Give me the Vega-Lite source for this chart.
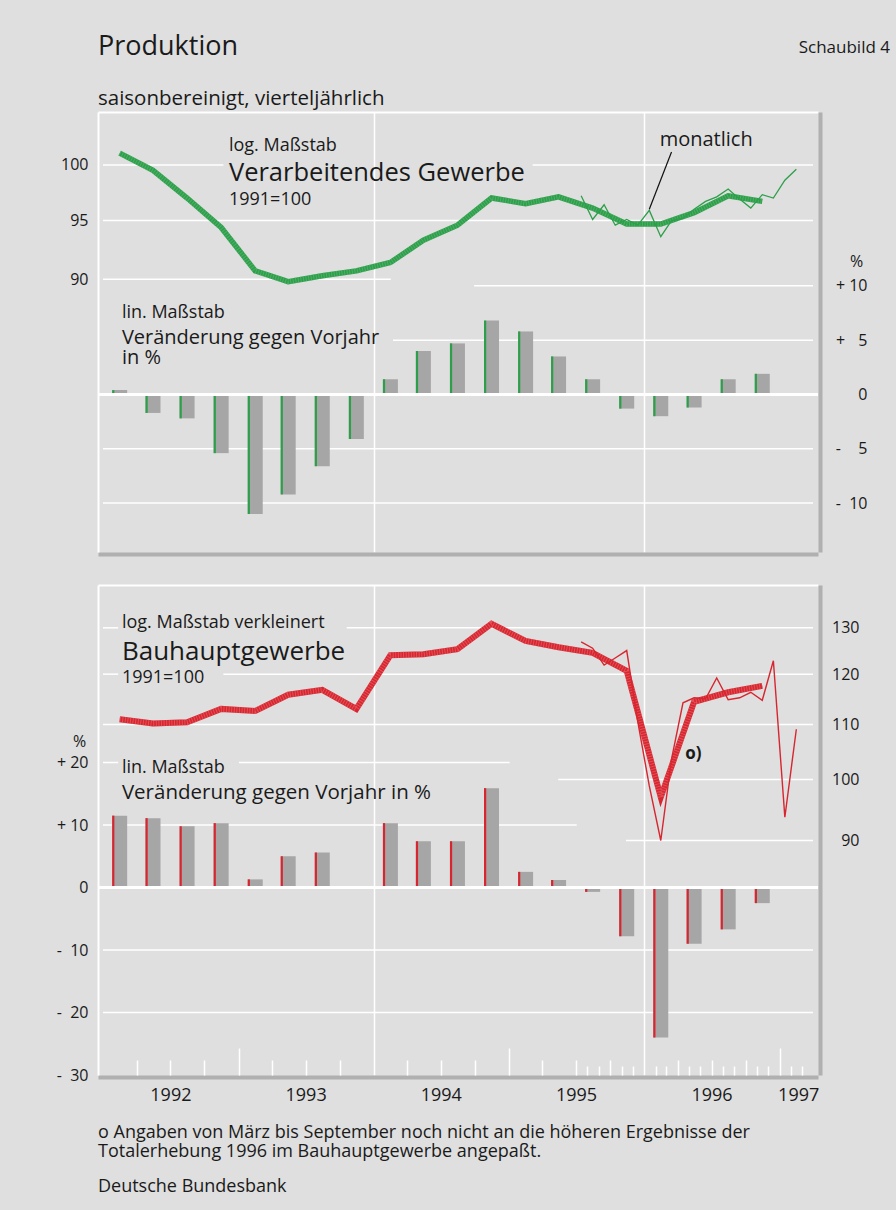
{
"$schema": "https://vega.github.io/schema/vega-lite/v6.json",
"background": "#dfdfdf",
"padding": {"left": 56, "top": 32, "right": 6, "bottom": 16},
"config": {
  "font": "Open Sans",
  "view": {"stroke": null},
  "axis": {"labelFont": "Open Sans", "labelFontSize": 16, "labelColor": "#1a1a1a", "titleFont": "Open Sans", "titleFontWeight": "normal", "titleColor": "#1a1a1a", "titleFontSize": 16, "ticks": false, "domain": false, "grid": false, "labelOverlap": false, "labelFlush": false, "labelBound": false},
  "title": {"font": "Open Sans", "color": "#1a1a1a", "fontWeight": "normal", "subtitleFont": "Open Sans", "subtitleColor": "#1a1a1a"},
  "text": {"font": "Open Sans", "color": "#1a1a1a", "align": "left", "baseline": "alphabetic"}
},
"title": {"text": "Schaubild 4", "anchor": "end", "frame": "bounds", "fontSize": 17, "dy": 24.5, "dx": 23, "offset": 0},
"spacing": 33,
"bounds": "flush",
"datasets": {
  "q": [
    {"date": "1992-02-15", "ind": 101.1, "bau": 111.0, "ind_pct": 0.4, "bau_pct": 11.5},
    {"date": "1992-05-15", "ind": 99.5, "bau": 110.2, "ind_pct": -1.7, "bau_pct": 11.1},
    {"date": "1992-08-15", "ind": 97.0, "bau": 110.4, "ind_pct": -2.2, "bau_pct": 9.8},
    {"date": "1992-11-15", "ind": 94.4, "bau": 113.0, "ind_pct": -5.4, "bau_pct": 10.3},
    {"date": "1993-02-15", "ind": 90.7, "bau": 112.6, "ind_pct": -11.0, "bau_pct": 1.3},
    {"date": "1993-05-15", "ind": 89.8, "bau": 115.8, "ind_pct": -9.2, "bau_pct": 5.0},
    {"date": "1993-08-15", "ind": 90.3, "bau": 116.8, "ind_pct": -6.6, "bau_pct": 5.6},
    {"date": "1993-11-15", "ind": 90.7, "bau": 113.0, "ind_pct": -4.1, "bau_pct": 0},
    {"date": "1994-02-15", "ind": 91.4, "bau": 124.0, "ind_pct": 1.4, "bau_pct": 10.3},
    {"date": "1994-05-15", "ind": 93.3, "bau": 124.2, "ind_pct": 4.0, "bau_pct": 7.4},
    {"date": "1994-08-15", "ind": 94.6, "bau": 125.3, "ind_pct": 4.7, "bau_pct": 7.4},
    {"date": "1994-11-15", "ind": 97.0, "bau": 130.9, "ind_pct": 6.8, "bau_pct": 15.9},
    {"date": "1995-02-15", "ind": 96.5, "bau": 127.1, "ind_pct": 5.8, "bau_pct": 2.5},
    {"date": "1995-05-15", "ind": 97.1, "bau": 125.7, "ind_pct": 3.5, "bau_pct": 1.2},
    {"date": "1995-08-15", "ind": 96.1, "bau": 124.5, "ind_pct": 1.4, "bau_pct": -0.7},
    {"date": "1995-11-15", "ind": 94.7, "bau": 120.7, "ind_pct": -1.3, "bau_pct": -7.8},
    {"date": "1996-02-15", "ind": 94.7, "bau": 97.0, "ind_pct": -2.0, "bau_pct": -24.0},
    {"date": "1996-05-15", "ind": 95.7, "bau": 114.4, "ind_pct": -1.2, "bau_pct": -9.0},
    {"date": "1996-08-15", "ind": 97.2, "bau": 116.3, "ind_pct": 1.4, "bau_pct": -6.7},
    {"date": "1996-11-15", "ind": 96.7, "bau": 117.6, "ind_pct": 1.9, "bau_pct": -2.5}
  ],
  "m": [
    {"date": "1995-07-15", "ind": 97.2, "bau": 126.9},
    {"date": "1995-08-15", "ind": 95.1, "bau": 125.5},
    {"date": "1995-09-15", "ind": 96.4, "bau": 121.9},
    {"date": "1995-10-15", "ind": 94.6, "bau": 123.4},
    {"date": "1995-11-15", "ind": 95.1, "bau": 125.0},
    {"date": "1995-12-15", "ind": 94.6, "bau": 110.5},
    {"date": "1996-01-15", "ind": 95.9, "bau": 98.9},
    {"date": "1996-02-15", "ind": 93.6, "bau": 90.0},
    {"date": "1996-03-15", "ind": 95.0, "bau": 103.6},
    {"date": "1996-04-15", "ind": 95.2, "bau": 114.2},
    {"date": "1996-05-15", "ind": 96.0, "bau": 115.2},
    {"date": "1996-06-15", "ind": 96.7, "bau": 115.0},
    {"date": "1996-07-15", "ind": 97.1, "bau": 119.2},
    {"date": "1996-08-15", "ind": 97.8, "bau": 114.8},
    {"date": "1996-09-15", "ind": 96.9, "bau": 115.2},
    {"date": "1996-10-15", "ind": 96.1, "bau": 116.3},
    {"date": "1996-11-15", "ind": 97.3, "bau": 114.7},
    {"date": "1996-12-15", "ind": 97.0, "bau": 122.8},
    {"date": "1997-01-15", "ind": 98.6, "bau": 93.7},
    {"date": "1997-02-15", "ind": 99.6, "bau": 109.1}
  ],
  "gti": [
    {"v": 100, "from": "1992-01-01", "to": "1992-11-21"},
    {"v": 100, "from": "1995-03-06", "to": "1997-04-01"},
    {"v": 95, "from": "1992-01-01", "to": "1997-04-01"},
    {"v": 90, "from": "1992-01-01", "to": "1994-02-16"}
  ],
  "gtp": [
    {"v": 10, "from": "1994-09-29", "to": "1997-04-01"},
    {"v": 5, "from": "1994-02-22", "to": "1997-04-01"},
    {"v": -5, "from": "1992-01-01", "to": "1997-04-01"},
    {"v": -10, "from": "1992-01-01", "to": "1997-04-01"}
  ],
  "gbi": [
    {"v": 130, "from": "1992-01-01", "to": "1992-02-11"},
    {"v": 130, "from": "1993-10-20", "to": "1997-04-01"},
    {"v": 120, "from": "1992-01-01", "to": "1992-02-11"},
    {"v": 120, "from": "1992-11-21", "to": "1997-04-01"},
    {"v": 110, "from": "1992-01-01", "to": "1997-04-01"},
    {"v": 100, "from": "1995-05-14", "to": "1997-04-01"},
    {"v": 90, "from": "1995-11-13", "to": "1997-04-01"}
  ],
  "gbp": [
    {"v": 20, "from": "1992-01-01", "to": "1992-02-11"},
    {"v": 20, "from": "1993-01-02", "to": "1995-01-03"},
    {"v": 10, "from": "1992-01-01", "to": "1995-07-03"},
    {"v": -10, "from": "1992-01-01", "to": "1997-04-01"},
    {"v": -20, "from": "1992-01-01", "to": "1997-04-01"}
  ]
},
"vconcat": [
{
  "width": 720, "height": 440,
  "title": {"text": "Produktion", "subtitle": "saisonbereinigt, vierteljährlich", "anchor": "start", "frame": "group", "fontSize": 27, "subtitleFontSize": 20.5, "subtitlePadding": 28, "offset": 2},
  "resolve": {"scale": {"y": "independent"}, "axis": {"x": "independent", "y": "independent"}},
  "layer": [
    {
      "data": {"name": "gti"},
      "mark": {"type": "rule", "color": "#ffffff", "strokeWidth": 1.5},
      "encoding": {
        "x": {"field": "from", "type": "temporal", "scale": {"type": "utc", "domain": [{"year": 1992, "month": 1, "date": 1, "utc": true}, {"year": 1997, "month": 4, "date": 1, "utc": true}], "nice": false},
              "axis": {"orient": "top", "title": null, "labels": false, "domain": true, "domainColor": "#ffffff", "domainWidth": 2, "grid": true, "gridColor": "#ffffff", "gridWidth": 1.5, "gridOpacity": 1, "values": [{"year": 1994, "month": 1, "date": 1, "utc": true}, {"year": 1996, "month": 1, "date": 1, "utc": true}]}},
        "x2": {"field": "to"},
        "y": {"field": "v", "type": "quantitative", "scale": {"type": "log", "domain": [70, 105], "nice": false},
              "axis": {"orient": "left", "title": null, "values": [90, 95, 100], "labelPadding": 10, "domain": true, "domainColor": "#ffffff", "domainWidth": 2}}
      }
    },
    {
      "data": {"name": "gtp"},
      "mark": {"type": "rule", "color": "#ffffff", "strokeWidth": 1.5},
      "encoding": {
        "x": {"field": "from", "type": "temporal", "scale": {"type": "utc", "domain": [{"year": 1992, "month": 1, "date": 1, "utc": true}, {"year": 1997, "month": 4, "date": 1, "utc": true}], "nice": false},
              "axis": {"orient": "bottom", "title": null, "labels": false, "domain": true, "domainColor": "#b0b0b0", "domainWidth": 4, "offset": 2}},
        "x2": {"field": "to"},
        "y": {"field": "v", "type": "quantitative", "scale": {"domain": [-14.5, 26], "nice": false},
              "axis": {"orient": "right", "title": "%", "titleAngle": 0, "titleX": 36, "titleY": 149, "titleAlign": "center", "titleBaseline": "middle", "values": [-10, -5, 0, 5, 10], "labelAlign": "right", "labelPadding": 47, "offset": 2, "domain": true, "domainColor": "#b0b0b0", "domainWidth": 4,
                       "labelExpr": "datum.value > 0 ? '+\u00a0' + (datum.value < 10 ? '\u2007' : '') + datum.value : (datum.value < 0 ? '-\u00a0\u00a0' + (datum.value > -10 ? '\u2007' : '') + (-datum.value) : '0')"}}
      }
    },
    {
      "data": {"name": "q"},
      "encoding": {
        "x": {"field": "date", "type": "temporal", "scale": {"type": "utc", "domain": [{"year": 1992, "month": 1, "date": 1, "utc": true}, {"year": 1997, "month": 4, "date": 1, "utc": true}], "nice": false}, "axis": null},
        "y": {"field": "ind_pct", "type": "quantitative", "scale": {"domain": [-14.5, 26], "nice": false}, "axis": null}
      },
      "layer": [
        {"mark": {"type": "bar", "size": 15, "color": "#a6a6a6"}},
        {"mark": {"type": "bar", "size": 2.2, "color": "#2d9f4a", "xOffset": -6.4}}
      ]
    },
    {
      "data": {"values": [{}]},
      "mark": {"type": "rule", "color": "#ffffff", "strokeWidth": 3},
      "encoding": {"y": {"datum": 0, "type": "quantitative", "scale": {"domain": [-14.5, 26], "nice": false}, "axis": null}}
    },
    {
      "layer": [
        {
          "data": {"name": "q"},
          "encoding": {
            "x": {"field": "date", "type": "temporal", "scale": {"type": "utc", "domain": [{"year": 1992, "month": 1, "date": 1, "utc": true}, {"year": 1997, "month": 4, "date": 1, "utc": true}], "nice": false}, "axis": null},
            "y": {"field": "ind", "type": "quantitative", "scale": {"type": "log", "domain": [70, 105], "nice": false}, "axis": null}
          },
          "layer": [
            {"mark": {"type": "line", "color": "#2f9e4b", "strokeWidth": 5.5}},
            {"mark": {"type": "line", "color": "#5fc079", "strokeWidth": 5.5, "strokeDash": [1, 1.6], "opacity": 0.55}}
          ]
        },
        {
          "data": {"name": "m"},
          "mark": {"type": "line", "color": "#2d9f4a", "strokeWidth": 1.3},
          "encoding": {
            "x": {"field": "date", "type": "temporal", "axis": null},
            "y": {"field": "ind", "type": "quantitative", "axis": null}
          }
        },
        {
          "data": {"values": [{"x1": "1996-01-15", "v1": 96.0, "x2": "1996-03-15", "v2": 101.2}]},
          "mark": {"type": "rule", "color": "#111111", "strokeWidth": 1.2},
          "encoding": {
            "x": {"field": "x1", "type": "temporal", "axis": null},
            "x2": {"field": "x2"},
            "y": {"field": "v1", "type": "quantitative", "axis": null},
            "y2": {"field": "v2"}
          }
        }
      ]
    },
    {
      "encoding": {
        "x": {"field": "date", "type": "temporal", "scale": {"type": "utc", "domain": [{"year": 1992, "month": 1, "date": 1, "utc": true}, {"year": 1997, "month": 4, "date": 1, "utc": true}], "nice": false}, "axis": null},
        "y": {"field": "v", "type": "quantitative", "scale": {"domain": [-14.5, 26], "nice": false}, "axis": null},
        "text": {"field": "t"}
      },
      "layer": [
        {"data": {"values": [{"date": "1992-02-21", "v": 7.03, "t": "lin. Maßstab"}]}, "mark": {"type": "text", "fontSize": 18}},
        {"data": {"values": [{"date": "1992-02-21", "v": 4.65, "t": "Veränderung gegen Vorjahr\nin %"}]}, "mark": {"type": "text", "fontSize": 20, "lineBreak": "\n", "lineHeight": 20.5}}
      ]
    },
    {
      "encoding": {
        "x": {"field": "date", "type": "temporal", "scale": {"type": "utc", "domain": [{"year": 1992, "month": 1, "date": 1, "utc": true}, {"year": 1997, "month": 4, "date": 1, "utc": true}], "nice": false}, "axis": null},
        "y": {"field": "v", "type": "quantitative", "scale": {"type": "log", "domain": [70, 105], "nice": false}, "axis": null},
        "text": {"field": "t"}
      },
      "layer": [
        {"data": {"values": [{"date": "1992-12-06", "v": 101.32, "t": "log. Maßstab"}, {"date": "1992-12-06", "v": 96.4, "t": "1991=100"}]}, "mark": {"type": "text", "fontSize": 18}},
        {"data": {"values": [{"date": "1992-12-06", "v": 98.56, "t": "Verarbeitendes Gewerbe"}]}, "mark": {"type": "text", "fontSize": 25.5}},
        {"data": {"values": [{"date": "1996-02-12", "v": 101.76, "t": "monatlich"}]}, "mark": {"type": "text", "fontSize": 20}}
      ]
    }
  ]
},
{
  "width": 720, "height": 490,
  "title": {"text": ["o Angaben von März bis September noch nicht an die höheren Ergebnisse der", "Totalerhebung 1996 im Bauhauptgewerbe angepaßt."], "subtitle": "Deutsche Bundesbank", "orient": "bottom", "anchor": "start", "frame": "group", "fontSize": 18, "lineHeight": 18.5, "subtitleFontSize": 18, "subtitlePadding": 17, "offset": 20, "baseline": "top"},
  "resolve": {"scale": {"y": "independent"}, "axis": {"x": "independent", "y": "independent"}},
  "layer": [
    {
      "data": {"name": "gbi"},
      "mark": {"type": "rule", "color": "#ffffff", "strokeWidth": 1.5},
      "encoding": {
        "x": {"field": "from", "type": "temporal", "scale": {"type": "utc", "domain": [{"year": 1992, "month": 1, "date": 1, "utc": true}, {"year": 1997, "month": 4, "date": 1, "utc": true}], "nice": false},
              "axis": {"orient": "top", "title": null, "labels": false, "domain": true, "domainColor": "#ffffff", "domainWidth": 2, "grid": true, "gridColor": "#ffffff", "gridWidth": 1.5, "gridOpacity": 1, "values": [{"year": 1994, "month": 1, "date": 1, "utc": true}, {"year": 1996, "month": 1, "date": 1, "utc": true}]}},
        "x2": {"field": "to"},
        "y": {"field": "v", "type": "quantitative", "scale": {"type": "log", "domain": [60, 140], "nice": false},
              "axis": {"orient": "right", "title": null, "values": [90, 100, 110, 120, 130], "labelAlign": "right", "labelPadding": 39, "offset": 2, "domain": true, "domainColor": "#b0b0b0", "domainWidth": 4}}
      }
    },
    {
      "data": {"name": "gbp"},
      "mark": {"type": "rule", "color": "#ffffff", "strokeWidth": 1.5},
      "encoding": {
        "x": {"field": "from", "type": "temporal", "scale": {"type": "utc", "domain": [{"year": 1992, "month": 1, "date": 1, "utc": true}, {"year": 1997, "month": 4, "date": 1, "utc": true}], "nice": false},
              "axis": {"orient": "bottom", "title": null, "labels": true, "labelFontSize": 18, "labelPadding": 9, "labelBaseline": "top", "labelAlign": "center", "domain": true, "domainColor": "#b0b0b0", "domainWidth": 4, "offset": 2,
                       "values": [{"year": 1992, "month": 7, "date": 1, "utc": true}, {"year": 1993, "month": 7, "date": 1, "utc": true}, {"year": 1994, "month": 7, "date": 1, "utc": true}, {"year": 1995, "month": 7, "date": 1, "utc": true}, {"year": 1996, "month": 7, "date": 1, "utc": true}, {"year": 1997, "month": 2, "date": 20, "utc": true}],
                       "labelExpr": "utcFormat(datum.value, '%Y')"}},
        "x2": {"field": "to"},
        "y": {"field": "v", "type": "quantitative", "scale": {"domain": [-30, 48.4], "nice": false},
              "axis": {"orient": "left", "title": "%", "titleAngle": 0, "titleX": -19, "titleY": 156, "titleAlign": "center", "titleBaseline": "middle", "values": [-30, -20, -10, 0, 10, 20], "labelPadding": 10, "domain": true, "domainColor": "#ffffff", "domainWidth": 2,
                       "labelExpr": "datum.value > 0 ? '+\u00a0' + (datum.value < 10 ? '\u2007' : '') + datum.value : (datum.value < 0 ? '-\u00a0\u00a0' + (datum.value > -10 ? '\u2007' : '') + (-datum.value) : '0')"}}
      }
    },
    {
      "data": {"name": "q"},
      "encoding": {
        "x": {"field": "date", "type": "temporal", "scale": {"type": "utc", "domain": [{"year": 1992, "month": 1, "date": 1, "utc": true}, {"year": 1997, "month": 4, "date": 1, "utc": true}], "nice": false},
              "axis": {"orient": "bottom", "title": null, "labels": false, "ticks": true, "tickSize": -15, "tickColor": "#ffffff", "tickWidth": 1.5, "domain": false,
                       "values": [{"year": 1992, "month": 4, "date": 1, "utc": true}, {"year": 1992, "month": 7, "date": 1, "utc": true}, {"year": 1992, "month": 10, "date": 1, "utc": true}, {"year": 1993, "month": 4, "date": 1, "utc": true}, {"year": 1993, "month": 7, "date": 1, "utc": true}, {"year": 1993, "month": 10, "date": 1, "utc": true}, {"year": 1994, "month": 4, "date": 1, "utc": true}, {"year": 1994, "month": 7, "date": 1, "utc": true}, {"year": 1994, "month": 10, "date": 1, "utc": true}, {"year": 1995, "month": 4, "date": 1, "utc": true}, {"year": 1995, "month": 7, "date": 1, "utc": true}, {"year": 1995, "month": 10, "date": 1, "utc": true}, {"year": 1996, "month": 4, "date": 1, "utc": true}, {"year": 1996, "month": 7, "date": 1, "utc": true}, {"year": 1996, "month": 10, "date": 1, "utc": true}]}},
        "y": {"field": "bau_pct", "type": "quantitative", "scale": {"domain": [-30, 48.4], "nice": false}, "axis": null}
      },
      "layer": [
        {"mark": {"type": "bar", "size": 15, "color": "#a6a6a6"}},
        {"mark": {"type": "bar", "size": 2.2, "color": "#d7262f", "xOffset": -6.4}}
      ]
    },
    {
      "data": {"values": [{}]},
      "mark": {"type": "rule", "color": "#ffffff", "strokeWidth": 3},
      "encoding": {"y": {"datum": 0, "type": "quantitative", "scale": {"domain": [-30, 48.4], "nice": false}, "axis": null}}
    },
    {
      "encoding": {
        "x": {"field": "date", "type": "temporal", "scale": {"type": "utc", "domain": [{"year": 1992, "month": 1, "date": 1, "utc": true}, {"year": 1997, "month": 4, "date": 1, "utc": true}], "nice": false},
              "axis": {"orient": "bottom", "title": null, "labels": false, "ticks": true, "tickSize": -9, "tickColor": "#ffffff", "tickWidth": 1.5, "domain": false,
                       "values": [{"year": 1995, "month": 8, "date": 1, "utc": true}, {"year": 1995, "month": 9, "date": 1, "utc": true}, {"year": 1995, "month": 11, "date": 1, "utc": true}, {"year": 1995, "month": 12, "date": 1, "utc": true}, {"year": 1996, "month": 2, "date": 1, "utc": true}, {"year": 1996, "month": 3, "date": 1, "utc": true}, {"year": 1996, "month": 5, "date": 1, "utc": true}, {"year": 1996, "month": 6, "date": 1, "utc": true}, {"year": 1996, "month": 8, "date": 1, "utc": true}, {"year": 1996, "month": 9, "date": 1, "utc": true}, {"year": 1996, "month": 11, "date": 1, "utc": true}, {"year": 1996, "month": 12, "date": 1, "utc": true}, {"year": 1997, "month": 2, "date": 1, "utc": true}, {"year": 1997, "month": 3, "date": 1, "utc": true}]}},
        "y": {"field": "bau", "type": "quantitative", "scale": {"type": "log", "domain": [60, 140], "nice": false}, "axis": null}
      },
      "layer": [
        {"data": {"name": "q"}, "mark": {"type": "line", "color": "#d7262f", "strokeWidth": 6}},
        {"data": {"name": "q"}, "mark": {"type": "line", "color": "#f07a80", "strokeWidth": 6, "strokeDash": [1, 1.6], "opacity": 0.5}},
        {"data": {"name": "m"}, "mark": {"type": "line", "color": "#d7262f", "strokeWidth": 1.4}}
      ]
    },
    {
      "encoding": {
        "x": {"field": "date", "type": "temporal", "scale": {"type": "utc", "domain": [{"year": 1992, "month": 1, "date": 1, "utc": true}, {"year": 1997, "month": 4, "date": 1, "utc": true}], "nice": false},
              "axis": {"orient": "bottom", "title": null, "labels": false, "ticks": true, "tickSize": -27, "tickColor": "#ffffff", "tickWidth": 1.5, "domain": false,
                       "values": [{"year": 1993, "month": 1, "date": 1, "utc": true}, {"year": 1995, "month": 1, "date": 1, "utc": true}, {"year": 1997, "month": 1, "date": 1, "utc": true}]}},
        "y": {"field": "v", "type": "quantitative", "scale": {"domain": [-30, 48.4], "nice": false}, "axis": null},
        "text": {"field": "t"}
      },
      "layer": [
        {"data": {"values": [{"date": "1992-02-21", "v": 18.4, "t": "lin. Maßstab"}]}, "mark": {"type": "text", "fontSize": 18}},
        {"data": {"values": [{"date": "1992-02-21", "v": 14.16, "t": "Veränderung gegen Vorjahr in %"}]}, "mark": {"type": "text", "fontSize": 20.5}}
      ]
    },
    {
      "encoding": {
        "x": {"field": "date", "type": "temporal", "scale": {"type": "utc", "domain": [{"year": 1992, "month": 1, "date": 1, "utc": true}, {"year": 1997, "month": 4, "date": 1, "utc": true}], "nice": false}, "axis": null},
        "y": {"field": "v", "type": "quantitative", "scale": {"type": "log", "domain": [60, 140], "nice": false}, "axis": null},
        "text": {"field": "t"}
      },
      "layer": [
        {"data": {"values": [{"date": "1992-02-21", "v": 129.96, "t": "log. Maßstab verkleinert"}, {"date": "1992-02-21", "v": 118.1, "t": "1991=100"}]}, "mark": {"type": "text", "fontSize": 18}},
        {"data": {"values": [{"date": "1992-02-21", "v": 122.97, "t": "Bauhauptgewerbe"}]}, "mark": {"type": "text", "fontSize": 26}},
        {"data": {"values": [{"date": "1996-04-21", "v": 103.6, "t": "o)"}]}, "mark": {"type": "text", "fontSize": 17, "fontWeight": "bold"}}
      ]
    }
  ]
}
]
}
